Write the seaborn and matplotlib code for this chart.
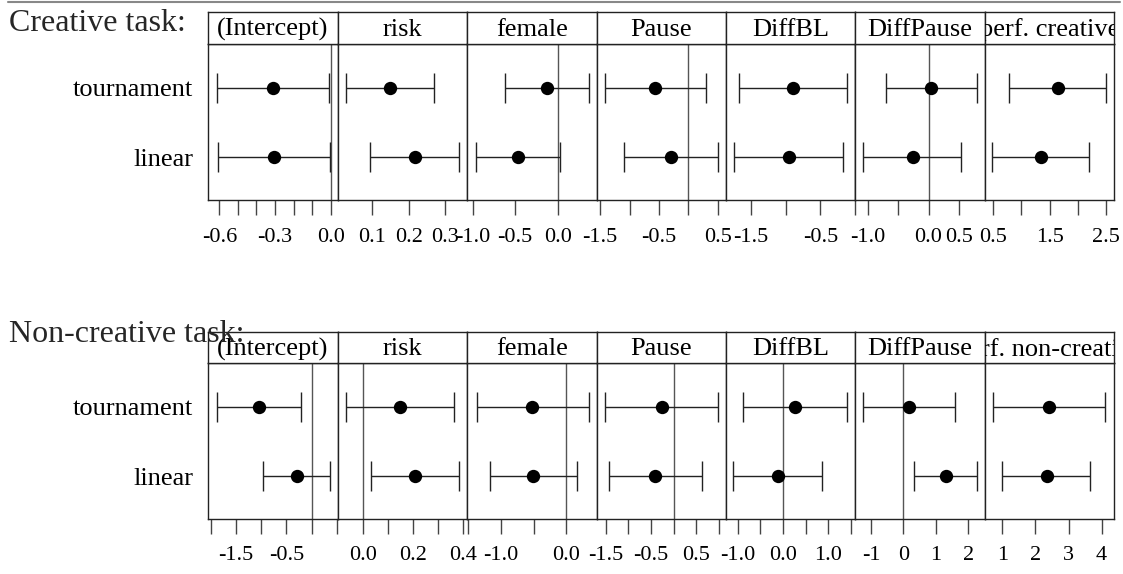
import matplotlib
matplotlib.use("Agg")
import matplotlib.pyplot as plt
from matplotlib.lines import Line2D
import seaborn as sns
import pandas as pd

sns.set_theme(style="white")
plt.rcParams['font.family'] = ['Liberation Serif', 'DejaVu Serif']

# ---------------- data ----------------
models = ["tournament", "linear"]
terms_creative = ["(Intercept)", "risk", "female", "Pause", "DiffBL", "DiffPause", "perf. creative"]
terms_noncreative = ["(Intercept)", "risk", "female", "Pause", "DiffBL", "DiffPause", "perf. non-creative"]

cr_tour_est = [-0.312, 0.149, -0.13, -0.56, -0.89, 0.038, 1.643]
cr_tour_lo = [-0.614, 0.029, -0.62, -1.415, -1.677, -0.70, 0.779]
cr_tour_hi = [-0.011, 0.270, 0.368, 0.297, -0.11, 0.79, 2.50]
cr_lin_est = [-0.304, 0.217, -0.464, -0.29, -0.957, -0.262, 1.341]
cr_lin_lo = [-0.607, 0.0945, -0.965, -1.085, -1.75, -1.07, 0.482]
cr_lin_hi = [-0.002, 0.338, 0.027, 0.50, -0.17, 0.536, 2.204]

nc_tour_est = [-1.046, 0.149, -0.52, -0.265, 0.265, 0.185, 2.42]
nc_tour_lo = [-1.884, -0.067, -1.37, -1.515, -0.876, -1.235, 0.71]
nc_tour_hi = [-0.211, 0.365, 0.348, 0.985, 1.42, 1.605, 4.11]
nc_lin_est = [-0.30, 0.211, -0.51, -0.412, -0.117, 1.31, 2.34]
nc_lin_lo = [-0.955, 0.033, -1.17, -1.42, -1.096, 0.34, 0.98]
nc_lin_hi = [0.363, 0.387, 0.166, 0.625, 0.87, 2.265, 3.64]

# axis limits / ticks per panel
cr_xlim = [(-0.659, 0.0377), (0.0065, 0.3597), (-1.065, 0.458), (-1.558, 0.636),
           (-1.86, 0.005), (-1.202, 0.924), (0.349, 2.645)]
nc_xlim = [(-2.047, 0.514), (-0.1, 0.418), (-1.517, 0.463), (-1.70, 1.154),
           (-1.258, 1.597), (-1.48, 2.51), (0.471, 4.378)]
cr_ticks = [[-0.6, -0.5, -0.4, -0.3, -0.2, -0.1, 0.0], [0.1, 0.2, 0.3], [-1.0, -0.5, 0.0],
            [-1.5, -1.0, -0.5, 0.0, 0.5], [-1.5, -1.0, -0.5, 0.0], [-1.0, -0.5, 0.0, 0.5],
            [0.5, 1.0, 1.5, 2.0, 2.5]]
cr_labels = [["-0.6", "", "", "-0.3", "", "", "0.0"], ["0.1", "0.2", "0.3"], ["-1.0", "-0.5", "0.0"],
             ["-1.5", "", "-0.5", "", "0.5"], ["-1.5", "", "-0.5", ""], ["-1.0", "", "0.0", "0.5"],
             ["0.5", "", "1.5", "", "2.5"]]
nc_ticks = [[-2.0, -1.5, -1.0, -0.5, 0.0, 0.5], [0.0, 0.1, 0.2, 0.3, 0.4], [-1.5, -1.0, -0.5, 0.0],
            [-1.5, -1.0, -0.5, 0.0, 0.5, 1.0], [-1.0, -0.5, 0.0, 0.5, 1.0, 1.5], [-1, 0, 1, 2],
            [1, 2, 3, 4]]
nc_labels = [["", "-1.5", "", "-0.5", "", ""], ["0.0", "", "0.2", "", "0.4"], ["", "-1.0", "", "0.0"],
             ["-1.5", "", "-0.5", "", "0.5", ""], ["-1.0", "", "0.0", "", "1.0", ""],
             ["-1", "0", "1", "2"], ["1", "2", "3", "4"]]

# ---------------- layout ----------------
W, H = 1123, 574
fig = plt.figure(figsize=(W / 100, H / 100), dpi=100)
edges = [208.3, 337.7, 467.2, 596.6, 726.0, 855.4, 984.8, 1114.2]


def box(x0, x1, yt, yb):
    return [x0 / W, 1 - yb / H, (x1 - x0) / W, (yb - yt) / H]


def draw_row(terms, t_est, t_lo, t_hi, l_est, l_lo, l_hi, xlims, ticks, labels, strip_top, strip_bot, body_bot):
    for i, term in enumerate(terms):
        x0, x1 = edges[i], edges[i + 1]
        ax = fig.add_axes(box(x0, x1, strip_bot, body_bot))
        df = pd.DataFrame({
            "model": models,
            "est": [t_est[i], l_est[i]],
            "lo": [t_lo[i], l_lo[i]],
            "hi": [t_hi[i], l_hi[i]],
            "ypos": [2, 1],
        })
        ax.axvline(0, color="#555555", lw=1, zorder=1)
        ax.errorbar(df["est"], df["ypos"], xerr=[df["est"] - df["lo"], df["hi"] - df["est"]],
                    fmt="none", ecolor="#222222", elinewidth=1, capsize=10.8, capthick=1, zorder=2)
        sns.scatterplot(data=df, x="est", y="ypos", ax=ax, color="black", s=92,
                        linewidth=0, zorder=3, legend=False)
        ax.set_xlim(*xlims[i])
        ax.set_ylim(0.386, 2.624)
        ax.set_xlabel("")
        ax.set_ylabel("")
        ax.set_xticks(ticks[i])
        ax.set_xticklabels(labels[i])
        ax.tick_params(axis="x", bottom=True, direction="out", length=10.8, width=1,
                       color="#444444", pad=9.0, labelsize=16, labelcolor="black")
        if i == 0:
            ax.set_yticks([2, 1])
            ax.set_yticklabels(models)
            ax.tick_params(axis="y", left=True, length=0, pad=10.8, labelsize=19, labelcolor="black")
        else:
            ax.set_yticks([])
        for sp in ax.spines.values():
            sp.set_color("#222222")
            sp.set_linewidth(1)
        # strip header
        sax = fig.add_axes(box(x0, x1, strip_top, strip_bot))
        sax.set_xticks([])
        sax.set_yticks([])
        sax.set_facecolor("white")
        for sp in sax.spines.values():
            sp.set_color("#222222")
            sp.set_linewidth(1)
        sax.text(0.5, 0.45, term, transform=sax.transAxes, ha="center", va="center",
                 fontsize=19, color="black", clip_on=True)


draw_row(terms_creative, cr_tour_est, cr_tour_lo, cr_tour_hi, cr_lin_est, cr_lin_lo, cr_lin_hi,
         cr_xlim, cr_ticks, cr_labels, 12.3, 44.3, 200.0)
draw_row(terms_noncreative, nc_tour_est, nc_tour_lo, nc_tour_hi, nc_lin_est, nc_lin_lo, nc_lin_hi,
         nc_xlim, nc_ticks, nc_labels, 331.7, 363.3, 519.0)

fig.text(9 / W, 1 - 30.7 / H, "Creative task:", fontsize=23, ha="left", va="baseline", zorder=10)
fig.text(9 / W, 1 - 342 / H, "Non-creative task:", fontsize=23, ha="left", va="baseline", zorder=10)
fig.add_artist(Line2D([8 / W, 1120 / W], [1 - 1.5 / H, 1 - 1.5 / H], color="#888888", lw=1.5,
                      transform=fig.transFigure))

fig.savefig("out.png", dpi=100)
